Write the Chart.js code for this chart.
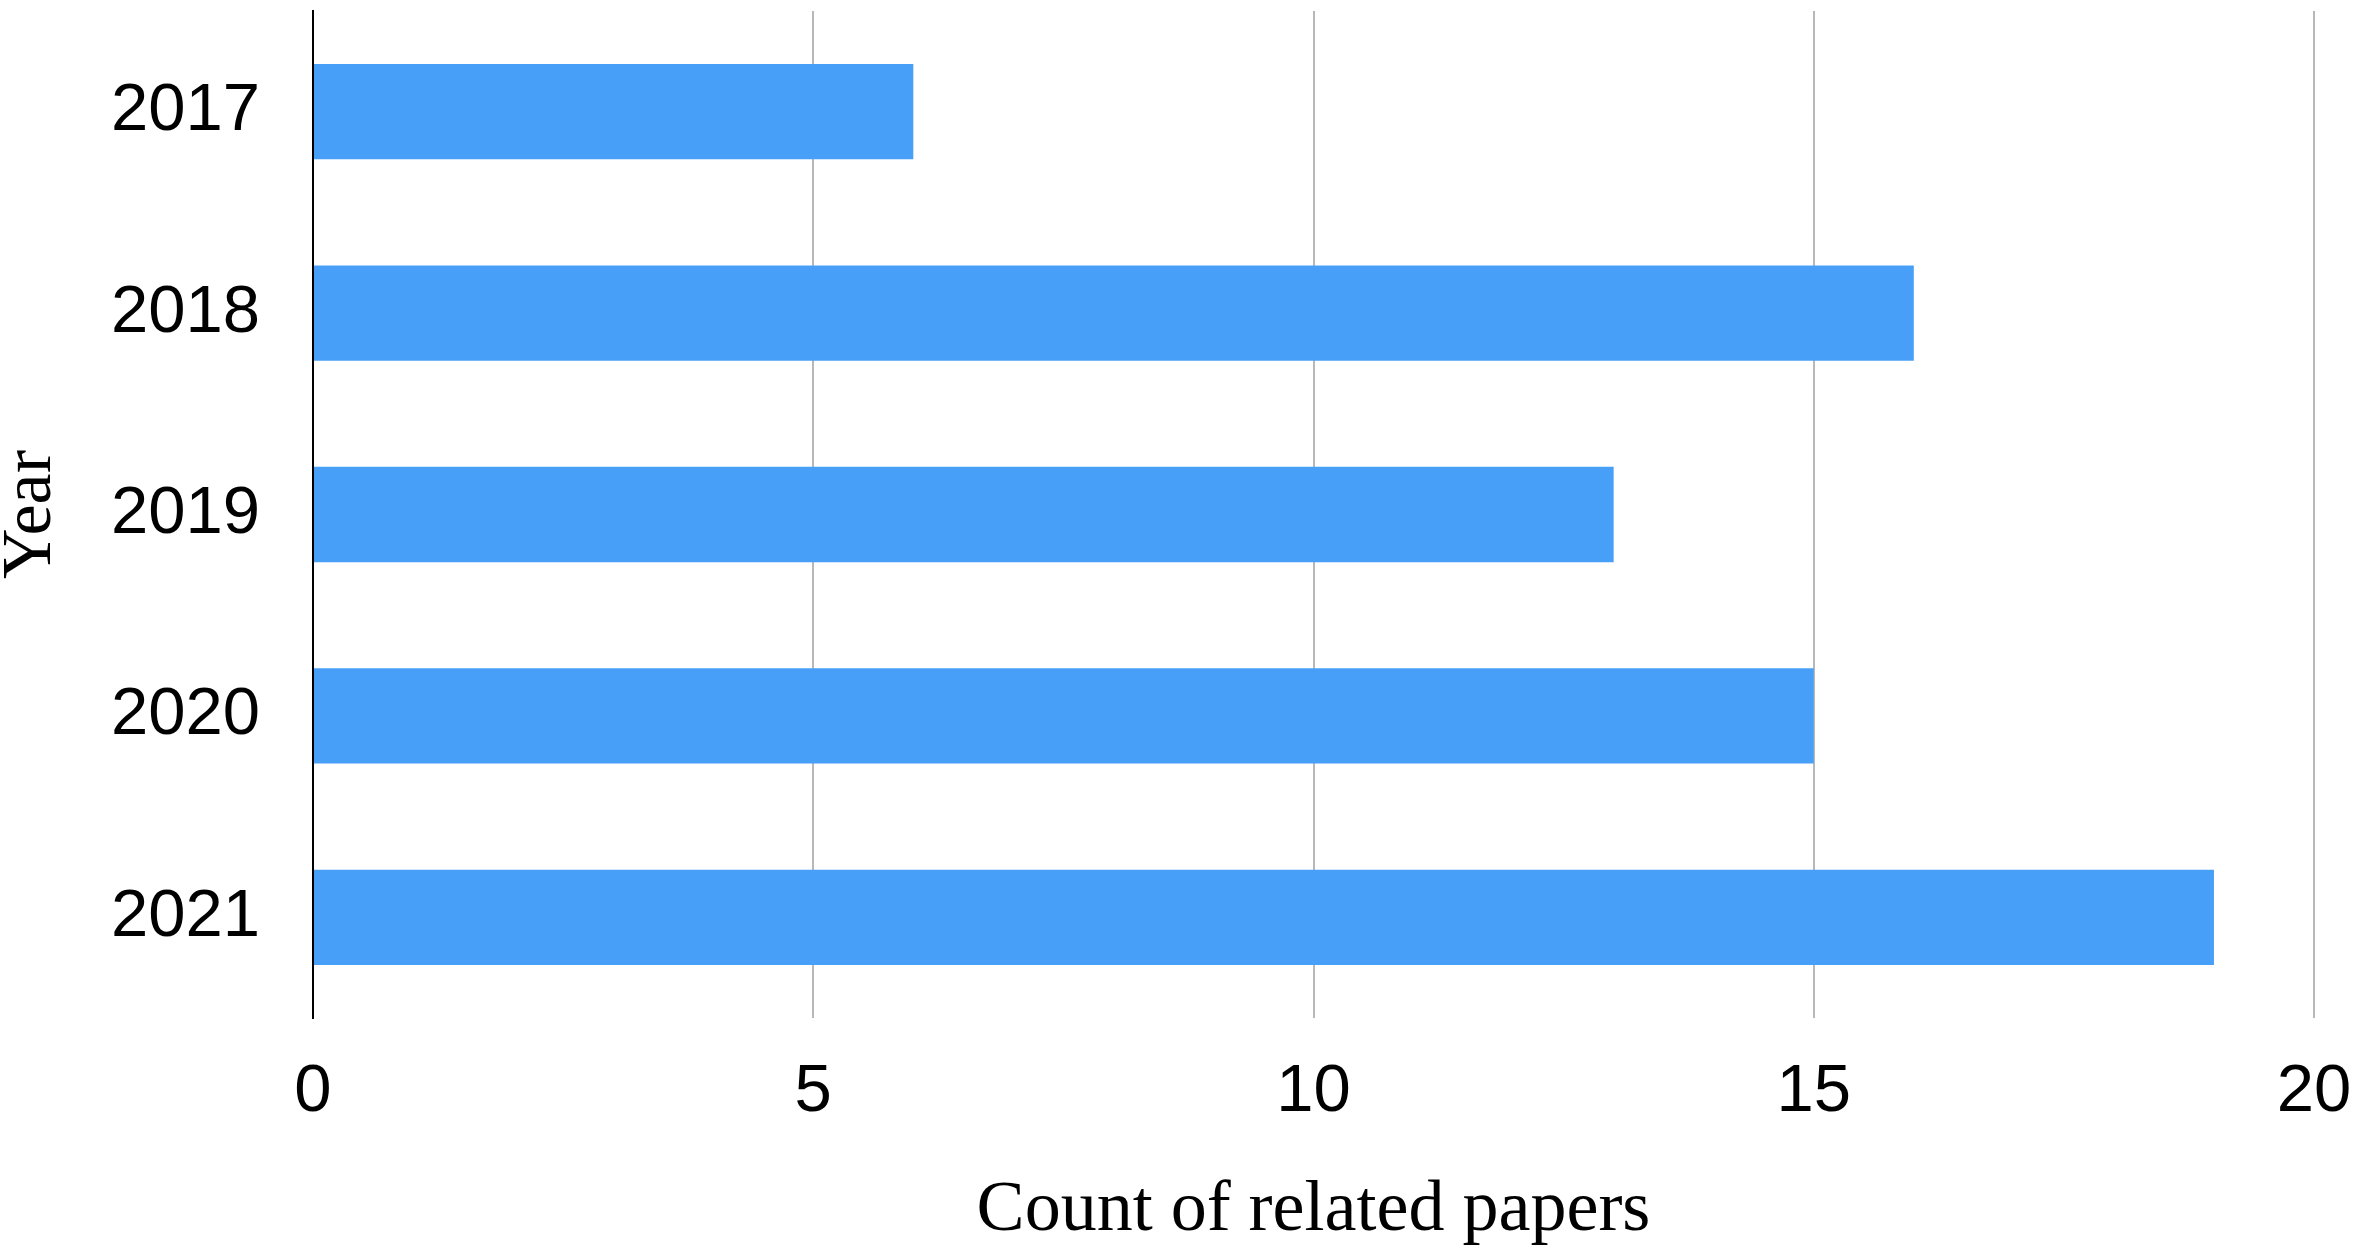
<!DOCTYPE html>
<html>
<head>
<meta charset="utf-8">
<script src="https://cdn.jsdelivr.net/npm/chart.js@4"></script>
<style>
  html, body { margin: 0; padding: 0; background: #fff; }
  canvas { display: block; }
</style>
</head>
<body>
<canvas id="myChart" width="2358" height="1260"></canvas>
<script>
const years = ['2017', '2018', '2019', '2020', '2021'];
const paperCounts = [6, 16, 13, 15, 19];
const xTicks = [0, 5, 10, 15, 20];

const tickFont = { family: 'Liberation Sans', size: 67, lineHeight: 1.2 };

// drop the extra room Chart.js keeps for half-labels at the ends
function noEdgePadding(scale) {
    scale.paddingTop = 0;
    scale.paddingBottom = 0;
    scale.paddingLeft = 0;
    scale.paddingRight = 0;
}

const ctx = document.getElementById('myChart');
let chart = new Chart(ctx, {
    type: 'bar',
    data: {
        labels: years,
        datasets: [{
            data: paperCounts,
            backgroundColor: '#479FF7',
            borderWidth: 0,
            categoryPercentage: 1,
            barPercentage: 0.473
        }]
    },
    options: {
        responsive: false,
        animation: false,
        indexAxis: 'y',
        layout: {
            padding: { top: 11, right: 44, bottom: 0, left: 0 }
        },
        plugins: {
            legend: { display: false },
            tooltip: { enabled: false }
        },
        scales: {
            x: {
                min: xTicks[0],
                max: xTicks[xTicks.length - 1],
                afterBuildTicks: (scale) => {
                    scale.ticks = xTicks.map((v) => ({ value: v }));
                },
                afterFit: (scale) => {
                    scale.height = 242;
                    noEdgePadding(scale);
                },
                ticks: {
                    font: tickFont,
                    color: '#000',
                    padding: 34,
                    maxRotation: 0
                },
                grid: {
                    color: '#b8b8b8',
                    lineWidth: 2,
                    drawTicks: false
                },
                border: { display: false },
                title: {
                    display: true,
                    text: 'Count of related papers',
                    font: { family: 'Liberation Serif', size: 72, lineHeight: 1.0 },
                    color: '#000',
                    padding: { top: 0, bottom: 13 }
                }
            },
            y: {
                afterFit: (scale) => {
                    scale.width = 313;
                    noEdgePadding(scale);
                },
                ticks: {
                    font: tickFont,
                    color: '#000',
                    padding: 53
                },
                grid: {
                    display: false,
                    drawTicks: false
                },
                border: {
                    display: true,
                    color: '#000',
                    width: 2
                },
                title: {
                    display: true,
                    text: 'Year',
                    font: { family: 'Liberation Serif', size: 70, lineHeight: 0.9 },
                    color: '#000',
                    padding: 0
                }
            }
        }
    }
});
</script>
</body>
</html>
